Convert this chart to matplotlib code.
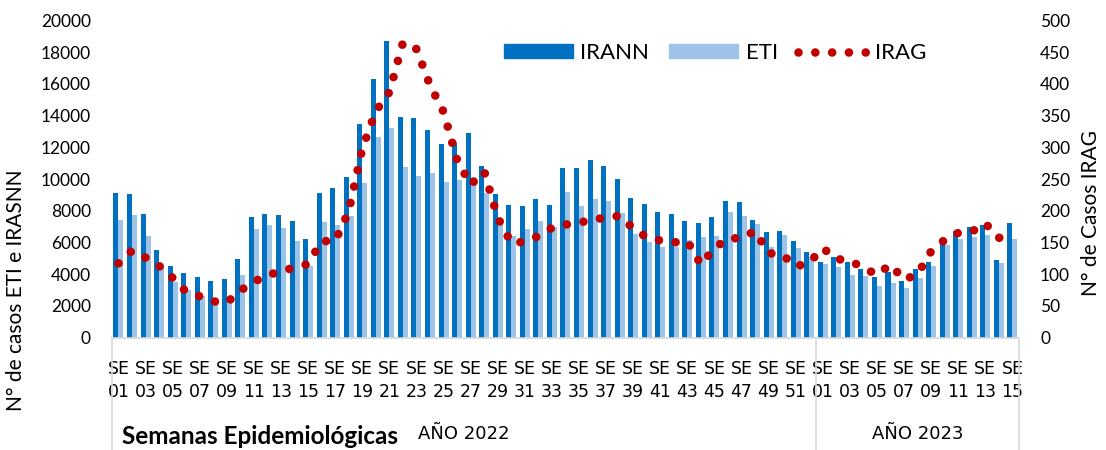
import numpy as np
import matplotlib
matplotlib.use("Agg")
import matplotlib.pyplot as plt
from matplotlib.patches import Patch
from matplotlib.lines import Line2D

plt.rcParams['font.family'] = ['Lato', 'DejaVu Sans']

# semanas epidemiologicas: 2022 (SE 01-52) y 2023 (SE 01-15)
semanas = ['%02d' % s for s in range(1, 53)] + ['%02d' % s for s in range(1, 16)]

irann = [9100, 9040, 7790, 5520, 4530, 4050, 3800, 3550, 3720, 4980,
         7620, 7770, 7730, 7350, 6210, 9140, 9410, 10150, 13470, 16290,
         18710, 13910, 13850, 13070, 12230, 12250, 12900, 10820, 9050, 8350,
         8290, 8750, 8350, 10700, 10670, 11230, 10820, 10020, 8790, 8400,
         7920, 7790, 7350, 7240, 7600, 8610, 8530, 7410, 6660, 6720,
         6090, 5380,
         4780, 5080, 4760, 4340, 3840, 4130, 3560, 4300, 4740, 6050,
         6720, 6970, 7100, 4870, 7240]

eti = [7410, 7730, 6400, 4530, 3500, 3000, 2600, 2370, 2470, 3940,
       6820, 7080, 6890, 6090, 4530, 7270, 7100, 7670, 9750, 12650,
       13240, 10780, 10210, 10380, 9830, 9940, 10150, 9140, 7400, 6400,
       6850, 7360, 7000, 9170, 8300, 8740, 8630, 7850, 6530, 6050,
       5730, 5690, 6150, 6320, 6380, 7920, 7670, 7160, 5730, 6450,
       5650, 5100,
       4640, 4450, 3940, 3880, 3250, 3440, 3100, 3750, 4510, 5820,
       6230, 6320, 6490, 4700, 6230]

irag = [117, 137, 126, 113, 94, 72, 65, 57, 55, 74,
        88, 98, 105, 110, 116, 152, 152, 199, 298, 357,
        387, 465, 455, 398, 356, 280, 241, 262, 189, 149,
        151, 160, 173, 178, 181, 186, 189, 192, 172, 158,
        153, 150, 152, 115, 141, 156, 157, 168, 133, 131,
        112, 118,
        141, 124, 121, 110, 99, 115, 91, 100, 136, 154,
        165, 167, 180, 157, 168]

c_irann = '#0070C0'
c_eti = '#9DC3E6'
c_irag = '#C00000'
narrow = ['Liberation Sans Narrow', 'DejaVu Sans']

fig = plt.figure(figsize=(11.06, 4.5), dpi=100)
ax = fig.add_axes([0.101, 0.25, 0.8205, 0.7044])
ax2 = ax.twinx()

x = np.arange(len(semanas))
w = 0.37
ax.bar(x - w / 2, irann, width=w, color=c_irann, zorder=2)
ax.bar(x + w / 2, eti, width=w, color=c_eti, zorder=2)

dots = (0, (0.001, 1.95))
ax2.plot(x, irag, color=c_irag, lw=6.2, linestyle=dots,
         dash_capstyle='round', zorder=3)

ax.set_xlim(-0.5, len(semanas) - 0.5)
ax.set_ylim(0, 20000)
ax.set_yticks(range(0, 20001, 2000))
ax2.set_ylim(0, 500)
ax2.set_yticks(range(0, 501, 50))

for a in (ax, ax2):
    for s in a.spines.values():
        s.set_visible(False)
    a.tick_params(length=0, labelsize=12.5, colors='#000000')
ax.tick_params(axis='y', pad=15)
ax2.tick_params(axis='y', pad=15)
ax.spines['bottom'].set_visible(True)
ax.spines['bottom'].set_color('#D9D9D9')
ax.spines['bottom'].set_linewidth(1.2)

# etiquetas de semana solo impares
pos = [i for i in range(len(semanas)) if int(semanas[i]) % 2 == 1]
ax.set_xticks(pos)
ax.set_xticklabels(['SE\n' + semanas[i] for i in pos], linespacing=1.35,
                   family=narrow, fontsize=12.5)
ax.tick_params(axis='x', pad=16.5)

# lineas de grupo por año
tr = ax.get_xaxis_transform()
for xv in (-0.5, 51.5, len(semanas) - 0.5):
    ax.plot([xv, xv], [0, -0.36], color='#D9D9D9', lw=1.2, transform=tr, clip_on=False)
ax.text(25.5, -0.305, 'AÑO 2022', transform=tr, ha='center', va='center',
        fontsize=13, family=narrow)
ax.text(59, -0.305, 'AÑO 2023', transform=tr, ha='center', va='center',
        fontsize=13, family=narrow)
fig.text(122 / 1106, 1 - 437 / 450, 'Semanas Epidemiológicas', ha='left', va='center',
         fontsize=17.5, fontweight='bold')

fig.text(16 / 1106, 1 - 290 / 450, 'N° de casos ETI e IRASNN', rotation=90,
         ha='center', va='center', fontsize=15)
fig.text(1091 / 1106, 1 - 213 / 450, 'N° de Casos IRAG', rotation=90,
         ha='center', va='center', fontsize=15)

handles = [Patch(color=c_irann), Patch(color=c_eti),
           Line2D([], [], color=c_irag, lw=6.2, linestyle=dots, dash_capstyle='round')]
fig.legend(handles, ['IRANN', 'ETI', 'IRAG'], loc='center', ncol=3,
           bbox_to_anchor=(715 / 1106, 1 - 53 / 450), frameon=False, fontsize=16,
           handlelength=3.1, handleheight=0.6, handletextpad=0.35, columnspacing=0.9)

fig.savefig('out.png', dpi=100)
